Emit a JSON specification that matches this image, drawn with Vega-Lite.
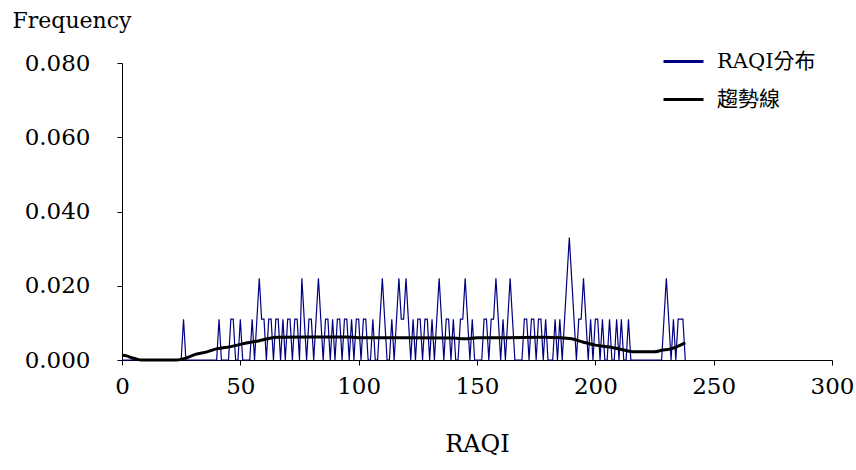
{
  "$schema": "https://vega.github.io/schema/vega-lite/v6.json",
  "width": 710,
  "height": 297,
  "autosize": {"type": "none"},
  "padding": {"left": 122, "top": 63, "right": 24, "bottom": 110},
  "background": "white",
  "config": {
    "view": {"stroke": null},
    "font": "DejaVu Serif",
    "axis": {"grid": false, "domainColor": "black", "tickColor": "black", "labelColor": "black", "titleColor": "black", "labelFont": "DejaVu Serif", "titleFont": "DejaVu Serif", "titleFontWeight": "normal", "labelFontSize": 23, "titleFontSize": 24}
  },
  "datasets": {
    "dist": [
      {"x":0,"y":0},{"x":1,"y":0},{"x":2,"y":0},{"x":3,"y":0},{"x":4,"y":0},{"x":5,"y":0},{"x":6,"y":0},{"x":7,"y":0},{"x":8,"y":0},{"x":9,"y":0},
      {"x":10,"y":0},{"x":11,"y":0},{"x":12,"y":0},{"x":13,"y":0},{"x":14,"y":0},{"x":15,"y":0},{"x":16,"y":0},{"x":17,"y":0},{"x":18,"y":0},{"x":19,"y":0},
      {"x":20,"y":0},{"x":21,"y":0},{"x":22,"y":0},{"x":23,"y":0},{"x":24,"y":0},{"x":25,"y":0},{"x":26,"y":0.011},{"x":27,"y":0},{"x":28,"y":0},{"x":29,"y":0},
      {"x":30,"y":0},{"x":31,"y":0},{"x":32,"y":0},{"x":33,"y":0},{"x":34,"y":0},{"x":35,"y":0},{"x":36,"y":0},{"x":37,"y":0},{"x":38,"y":0},{"x":39,"y":0},
      {"x":40,"y":0},{"x":41,"y":0.011},{"x":42,"y":0},{"x":43,"y":0},{"x":44,"y":0},{"x":45,"y":0},{"x":46,"y":0.011},{"x":47,"y":0.011},{"x":48,"y":0},{"x":49,"y":0},
      {"x":50,"y":0.011},{"x":51,"y":0},{"x":52,"y":0},{"x":53,"y":0},{"x":54,"y":0},{"x":55,"y":0.011},{"x":56,"y":0},{"x":57,"y":0.011},{"x":58,"y":0.022},{"x":59,"y":0.011},
      {"x":60,"y":0.011},{"x":61,"y":0},{"x":62,"y":0.011},{"x":63,"y":0.011},{"x":64,"y":0},{"x":65,"y":0.011},{"x":66,"y":0.011},{"x":67,"y":0},{"x":68,"y":0.011},{"x":69,"y":0},
      {"x":70,"y":0.011},{"x":71,"y":0.011},{"x":72,"y":0},{"x":73,"y":0.011},{"x":74,"y":0.011},{"x":75,"y":0},{"x":76,"y":0.022},{"x":77,"y":0.011},{"x":78,"y":0},{"x":79,"y":0.011},
      {"x":80,"y":0.011},{"x":81,"y":0},{"x":82,"y":0.011},{"x":83,"y":0.022},{"x":84,"y":0.011},{"x":85,"y":0},{"x":86,"y":0.011},{"x":87,"y":0.011},{"x":88,"y":0},{"x":89,"y":0.011},
      {"x":90,"y":0},{"x":91,"y":0.011},{"x":92,"y":0.011},{"x":93,"y":0},{"x":94,"y":0.011},{"x":95,"y":0.011},{"x":96,"y":0},{"x":97,"y":0.011},{"x":98,"y":0},{"x":99,"y":0.011},
      {"x":100,"y":0.011},{"x":101,"y":0},{"x":102,"y":0.011},{"x":103,"y":0.011},{"x":104,"y":0},{"x":105,"y":0},{"x":106,"y":0.011},{"x":107,"y":0},{"x":108,"y":0},{"x":109,"y":0.011},
      {"x":110,"y":0.022},{"x":111,"y":0.011},{"x":112,"y":0},{"x":113,"y":0},{"x":114,"y":0.011},{"x":115,"y":0},{"x":116,"y":0.011},{"x":117,"y":0.022},{"x":118,"y":0.011},{"x":119,"y":0.011},
      {"x":120,"y":0.022},{"x":121,"y":0.011},{"x":122,"y":0},{"x":123,"y":0.011},{"x":124,"y":0},{"x":125,"y":0.011},{"x":126,"y":0.011},{"x":127,"y":0},{"x":128,"y":0.011},{"x":129,"y":0.011},
      {"x":130,"y":0},{"x":131,"y":0.011},{"x":132,"y":0},{"x":133,"y":0.011},{"x":134,"y":0.022},{"x":135,"y":0.011},{"x":136,"y":0},{"x":137,"y":0.011},{"x":138,"y":0.011},{"x":139,"y":0},
      {"x":140,"y":0.011},{"x":141,"y":0},{"x":142,"y":0},{"x":143,"y":0.011},{"x":144,"y":0.011},{"x":145,"y":0.022},{"x":146,"y":0.011},{"x":147,"y":0},{"x":148,"y":0.011},{"x":149,"y":0},
      {"x":150,"y":0},{"x":151,"y":0},{"x":152,"y":0},{"x":153,"y":0.011},{"x":154,"y":0.011},{"x":155,"y":0},{"x":156,"y":0.011},{"x":157,"y":0.011},{"x":158,"y":0.022},{"x":159,"y":0.011},
      {"x":160,"y":0},{"x":161,"y":0.011},{"x":162,"y":0},{"x":163,"y":0.011},{"x":164,"y":0.022},{"x":165,"y":0.011},{"x":166,"y":0},{"x":167,"y":0},{"x":168,"y":0},{"x":169,"y":0},
      {"x":170,"y":0.011},{"x":171,"y":0.011},{"x":172,"y":0},{"x":173,"y":0.011},{"x":174,"y":0.011},{"x":175,"y":0},{"x":176,"y":0.011},{"x":177,"y":0.011},{"x":178,"y":0},{"x":179,"y":0.011},
      {"x":180,"y":0},{"x":181,"y":0},{"x":182,"y":0},{"x":183,"y":0.011},{"x":184,"y":0},{"x":185,"y":0.011},{"x":186,"y":0},{"x":187,"y":0.011},{"x":188,"y":0.022},{"x":189,"y":0.033},
      {"x":190,"y":0.022},{"x":191,"y":0.011},{"x":192,"y":0},{"x":193,"y":0.011},{"x":194,"y":0.011},{"x":195,"y":0.022},{"x":196,"y":0.011},{"x":197,"y":0},{"x":198,"y":0.011},{"x":199,"y":0},
      {"x":200,"y":0.011},{"x":201,"y":0.011},{"x":202,"y":0},{"x":203,"y":0.011},{"x":204,"y":0},{"x":205,"y":0},{"x":206,"y":0.011},{"x":207,"y":0},{"x":208,"y":0},{"x":209,"y":0.011},
      {"x":210,"y":0},{"x":211,"y":0.011},{"x":212,"y":0},{"x":213,"y":0},{"x":214,"y":0.011},{"x":215,"y":0},{"x":216,"y":0},{"x":217,"y":0},{"x":218,"y":0},{"x":219,"y":0},
      {"x":220,"y":0},{"x":221,"y":0},{"x":222,"y":0},{"x":223,"y":0},{"x":224,"y":0},{"x":225,"y":0},{"x":226,"y":0},{"x":227,"y":0},{"x":228,"y":0},{"x":229,"y":0.011},
      {"x":230,"y":0.022},{"x":231,"y":0.011},{"x":232,"y":0},{"x":233,"y":0.011},{"x":234,"y":0},{"x":235,"y":0.011},{"x":236,"y":0.011},{"x":237,"y":0.011},{"x":238,"y":0}
    ],
    "trend": [
      {"x":0,"y":0.0013},{"x":2,"y":0.0011},{"x":4,"y":0.0006},{"x":6,"y":0.0003},{"x":8,"y":0},{"x":23,"y":0},{"x":27,"y":0.0005},{"x":31,"y":0.0015},{"x":36,"y":0.0022},{"x":40,"y":0.003},
      {"x":46,"y":0.0036},{"x":52,"y":0.0045},{"x":58,"y":0.0052},{"x":62,"y":0.0058},{"x":66,"y":0.0061},{"x":80,"y":0.0062},{"x":95,"y":0.0062},{"x":100,"y":0.006},{"x":120,"y":0.006},{"x":140,"y":0.0059},
      {"x":145,"y":0.0057},{"x":150,"y":0.006},{"x":160,"y":0.006},{"x":178,"y":0.0061},{"x":185,"y":0.006},{"x":190,"y":0.0057},{"x":195,"y":0.0048},{"x":200,"y":0.004},{"x":206,"y":0.0035},{"x":212,"y":0.0027},
      {"x":216,"y":0.0022},{"x":225,"y":0.0022},{"x":228,"y":0.0026},{"x":232,"y":0.003},{"x":236,"y":0.004},{"x":238,"y":0.0046}
    ]
  },
  "encoding": {
    "x": {"field": "x", "type": "quantitative", "scale": {"domain": [0, 300], "nice": false}, "axis": {"values": [0, 50, 100, 150, 200, 250, 300], "title": "RAQI", "tickSize": 5, "labelPadding": 10, "titlePadding": 34, "labelFlush": false}},
    "y": {"field": "y", "type": "quantitative", "scale": {"domain": [0, 0.08], "nice": false}, "axis": {"values": [0, 0.02, 0.04, 0.06, 0.08], "format": ".3f", "tickSize": 5, "labelPadding": 27, "title": "Frequency", "titleAngle": 0, "titleX": -110, "titleY": -43, "titleAlign": "left", "titleBaseline": "middle", "titleFontSize": 22, "labelFlush": false}},
    "color": {"scale": {"domain": ["RAQI分布", "趨勢線"], "range": ["#000080", "#000000"]}, "legend": {"orient": "none", "legendX": 540, "legendY": -23, "title": null, "symbolType": "stroke", "symbolSize": 1600, "symbolStrokeWidth": 3, "labelFont": "DejaVu Serif, Noto Sans CJK TC", "labelFontSize": 21, "labelColor": "black", "rowPadding": 6, "labelOffset": 12}}
  },
  "layer": [
    {"data": {"name": "dist"}, "mark": {"type": "line", "strokeWidth": 1.2, "interpolate": "linear"}, "encoding": {"color": {"datum": "RAQI分布"}}},
    {"data": {"name": "trend"}, "mark": {"type": "line", "strokeWidth": 3, "interpolate": "monotone"}, "encoding": {"color": {"datum": "趨勢線"}}}
  ]
}
